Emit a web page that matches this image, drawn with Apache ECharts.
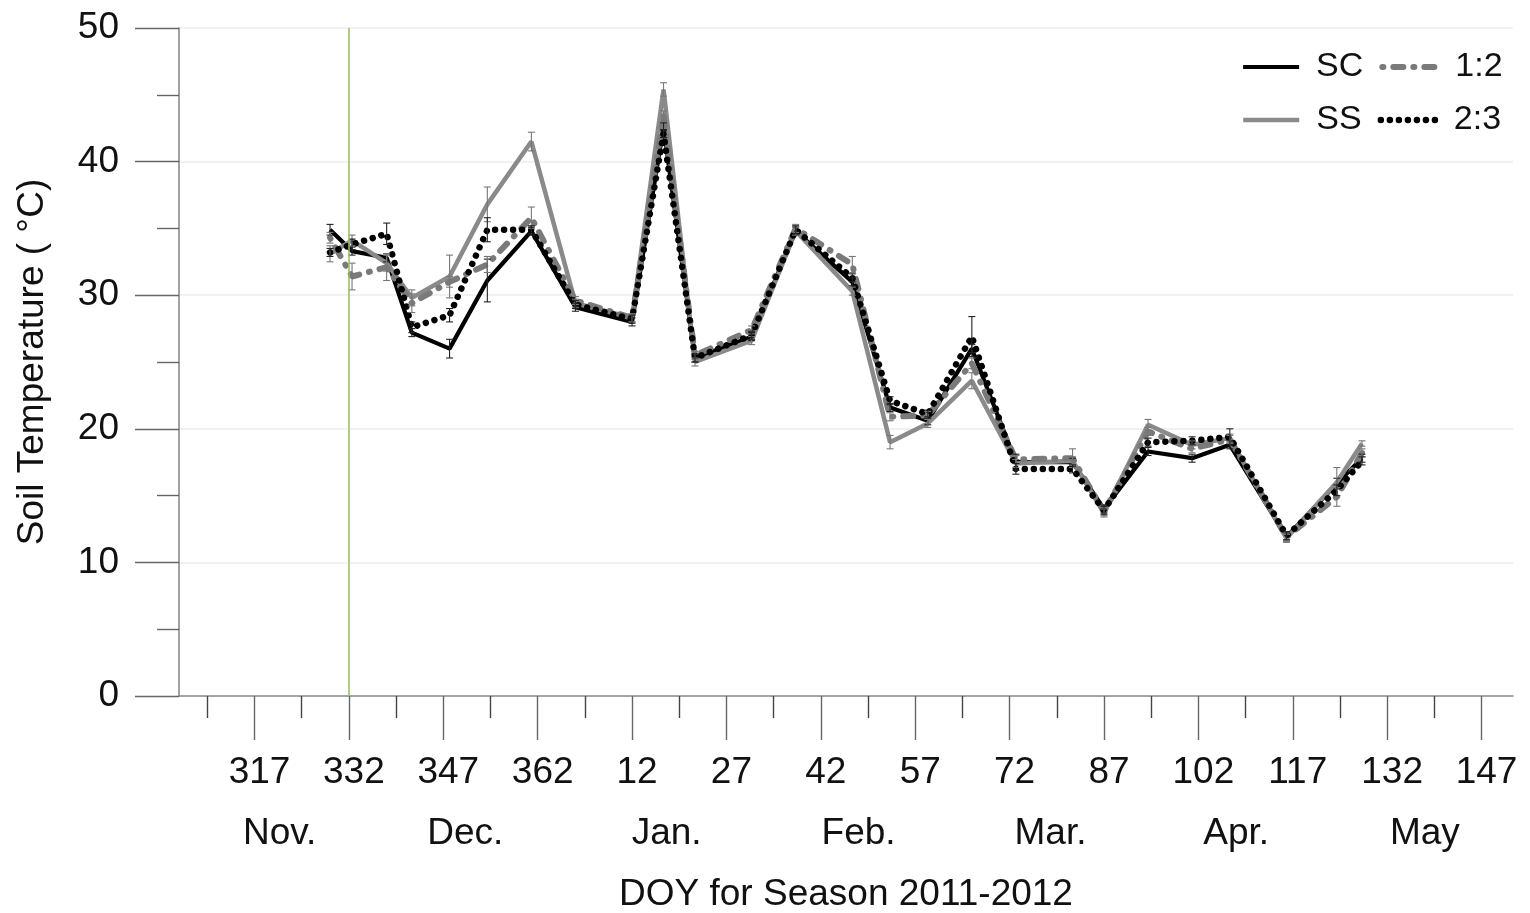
<!DOCTYPE html>
<html>
<head>
<meta charset="utf-8">
<title>Soil Temperature, Season 2011-2012</title>
<script src="https://cdn.jsdelivr.net/npm/echarts@6/dist/echarts.min.js"></script>
<style>
  html, body { margin: 0; padding: 0; background: #ffffff; }
  #chart { width: 1530px; height: 913px; }
</style>
</head>
<body>
<div id="chart"></div>
<script>
// Sampling days, counted as day of year continuing past 365 into 2012
const days = [329, 332.5, 338, 342, 348, 354, 361, 368, 377, 382, 387, 396, 403,
              412, 418, 424, 431, 438, 447, 452, 459, 466, 472, 481, 489, 493];

// Soil temperature (°C) per treatment
const sc  = [34.9, 33.3, 32.8, 27.2, 26.0, 31.1, 34.8, 29.1, 28.0, 42.6, 25.3, 26.9, 34.8,
             31.0, 21.6, 20.6, 26.0, 17.5, 17.5, 14.0, 18.3, 17.8, 18.8, 11.9, 15.9, 17.8];
const ss  = [33.1, 34.1, 32.4, 29.8, 31.4, 36.8, 41.5, 29.4, 28.3, 45.4, 25.0, 26.6, 34.8,
             30.3, 19.0, 20.4, 23.6, 17.4, 17.6, 13.7, 20.3, 18.8, 19.3, 11.8, 16.0, 18.9];
const r12 = [34.3, 31.4, 32.1, 29.4, 31.0, 32.3, 35.8, 29.6, 28.3, 43.4, 25.5, 27.4, 35.0,
             32.3, 20.9, 21.0, 24.9, 17.7, 17.8, 13.8, 19.8, 18.5, 19.2, 11.9, 14.9, 18.2];
const r23 = [33.2, 33.8, 34.6, 27.6, 28.5, 34.9, 34.9, 29.3, 28.2, 42.1, 25.3, 27.0, 34.9,
             31.3, 22.1, 21.1, 26.9, 17.0, 17.0, 13.9, 19.0, 19.1, 19.4, 12.0, 15.4, 17.6];

// Standard errors (±)
const errSC  = [0.4, 0.3, 0.3, 0.3, 0.7, 1.6, 0.3, 0.3, 0.3, 0.3, 0.3, 0.3, 0.3,
                0.3, 0.3, 0.3, 0.3, 0.6, 0.3, 0.3, 0.3, 0.3, 0.3, 0.3, 0.4, 0.3];
const errSS  = [0.6, 0.4, 0.6, 0.6, 1.6, 1.3, 0.7, 0.3, 0.3, 0.5, 0.3, 0.3, 0.3,
                0.3, 0.5, 0.3, 0.6, 0.3, 0.3, 0.3, 0.4, 0.3, 0.3, 0.3, 1.1, 0.2];
const err12  = [0.4, 1.0, 1.0, 0.7, 0.4, 0.6, 0.8, 0.3, 0.3, 0.4, 0.3, 0.3, 0.3,
                0.6, 0.3, 0.3, 0.4, 0.3, 0.7, 0.3, 0.3, 0.3, 0.3, 0.3, 0.7, 0.3];
const err23  = [0.3, 0.4, 0.8, 0.4, 0.5, 0.9, 0.3, 0.3, 0.3, 0.3, 0.3, 0.3, 0.3,
                0.3, 0.3, 0.3, 1.5, 0.4, 0.3, 0.3, 0.3, 0.3, 0.6, 0.3, 0.4, 0.3];

// Axis ticks: labelled DOY ticks every 15 days, short ticks halfway between
const labelTicks = [317, 332, 347, 362, 377, 392, 407, 422, 437, 452, 467, 482, 497, 512];
const halfTicks  = [309.5, 324.5, 339.5, 354.5, 369.5, 384.5, 399.5, 414.5, 429.5,
                    444.5, 459.5, 474.5, 489.5, 504.5];
const monthNames = ['Nov.', 'Dec.', 'Jan.', 'Feb.', 'Mar.', 'Apr.', 'May'];
const monthMid   = [321, 350.5, 382.5, 413, 443.5, 473, 503];
const plantingDay = 332;

const FONT = 'Liberation Sans, Arial, sans-serif';
const FS = 37;
const AXIS_GRAY = '#8a8a8a';
const X_MIN = 305, X_MAX = 517;

// Line styles per treatment
const STYLE = {
  'SC':  { color: '#000000', width: 4.2, type: 'solid' },
  'SS':  { color: '#8a8a8a', width: 4.5, type: 'solid' },
  '1:2': { color: '#7a7a7a', width: 6,   type: [1, 10, 10, 10], cap: 'round' },
  '2:3': { color: '#000000', width: 6.5, type: [0.01, 9], cap: 'round' }
};

function pairs(vals) { return days.map((d, i) => [d, vals[i]]); }

function lineSeries(name, vals, extra) {
  return Object.assign({
    name, type: 'line', data: pairs(vals), symbol: 'none', z: 3,
    lineStyle: Object.assign({}, STYLE[name]),
    itemStyle: { color: STYLE[name].color }
  }, extra || {});
}

function errorBars(name, vals, errs, color) {
  return {
    type: 'custom',
    name: name + ' SE',
    xAxisIndex: 0,
    yAxisIndex: 0,
    silent: true,
    z: 4,
    data: days.map((d, i) => [d, vals[i] - errs[i], vals[i] + errs[i]]),
    encode: { x: 0, y: [1, 2] },
    renderItem(params, api) {
      const lo = api.coord([api.value(0), api.value(1)]);
      const hi = api.coord([api.value(0), api.value(2)]);
      const w = 3.5;
      const style = { stroke: color, lineWidth: 1.1, fill: null };
      return {
        type: 'group',
        children: [
          { type: 'line', shape: { x1: lo[0], y1: lo[1], x2: hi[0], y2: hi[1] }, style },
          { type: 'line', shape: { x1: lo[0] - w, y1: lo[1], x2: lo[0] + w, y2: lo[1] }, style },
          { type: 'line', shape: { x1: hi[0] - w, y1: hi[1], x2: hi[0] + w, y2: hi[1] }, style }
        ]
      };
    }
  };
}

const chart = echarts.init(document.getElementById('chart'), null, { renderer: 'canvas' });

// Legend: two rows of two entries, line samples only (no marker)
function legendRow(names, top) {
  return {
    data: names.map(n => ({ name: n, lineStyle: Object.assign({}, STYLE[n]) })),
    top, left: 1236,
    itemWidth: 56, itemHeight: 24, itemGap: 16,
    itemStyle: { opacity: 0 },
    textStyle: { fontFamily: FONT, fontSize: 34, color: '#111', padding: [0, 0, 0, 12] }
  };
}

const option = {
  backgroundColor: '#ffffff',
  animation: false,
  textStyle: { fontFamily: FONT },
  grid: { left: 179, right: 17, top: 28, bottom: 217, containLabel: false, outerBoundsMode: 'none' },
  legend: [legendRow(['SC', '1:2'], 45), legendRow(['SS', '2:3'], 98)],
  xAxis: [
    {
      type: 'value', min: X_MIN, max: X_MAX, position: 'bottom', offset: 0,
      name: 'DOY for Season 2011-2012',
      nameLocation: 'middle', nameGap: 180,
      nameTextStyle: { fontFamily: FONT, fontSize: FS, color: '#111' },
      axisLine: { show: true, onZero: false, lineStyle: { color: AXIS_GRAY, width: 1.6 } },
      axisTick: { show: true, customValues: labelTicks, length: 44, inside: false,
                  lineStyle: { color: '#666', width: 1.4 } },
      axisLabel: {
        customValues: labelTicks, margin: 58, fontSize: FS, color: '#111', fontFamily: FONT,
        padding: [0, 0, 0, 10],
        formatter: v => String(v > 365 ? v - 365 : v)
      },
      splitLine: { show: false }
    },
    {
      type: 'value', min: X_MIN, max: X_MAX, position: 'bottom', offset: 0,
      axisLine: { show: false },
      axisTick: { show: true, customValues: halfTicks, length: 22, inside: false,
                  lineStyle: { color: '#444', width: 1.4 } },
      axisLabel: { show: false },
      splitLine: { show: false }
    },
    {
      type: 'value', min: X_MIN, max: X_MAX, position: 'bottom', offset: 0,
      axisLine: { show: false },
      axisTick: { show: false },
      axisLabel: {
        customValues: monthMid, margin: 119, fontSize: FS, color: '#111', fontFamily: FONT,
        formatter: v => monthNames[monthMid.indexOf(v)] || ''
      },
      splitLine: { show: false }
    }
  ],
  yAxis: {
    type: 'value', min: 0, max: 50, interval: 10,
    name: 'Soil Temperature ( °C)',
    nameLocation: 'middle', nameRotate: 90, nameGap: 128,
    nameTextStyle: { fontFamily: FONT, fontSize: FS, color: '#111' },
    axisLine: { show: true, lineStyle: { color: AXIS_GRAY, width: 1.6 } },
    axisTick: { show: true, length: 44, lineStyle: { color: '#666', width: 1.4 } },
    minorTick: { show: true, splitNumber: 2, length: 22, lineStyle: { color: '#666', width: 1.4 } },
    axisLabel: { margin: 60, fontSize: FS, color: '#111', fontFamily: FONT },
    splitLine: { show: true, lineStyle: { color: '#ececec', width: 1.6 } },
    minorSplitLine: { show: false }
  },
  series: [
    lineSeries('SC', sc, {
      markLine: {
        silent: true, symbol: 'none', label: { show: false },
        lineStyle: { color: '#9bbb59', width: 1.5, type: 'solid' },
        data: [{ xAxis: plantingDay }]
      }
    }),
    lineSeries('SS', ss),
    lineSeries('1:2', r12),
    lineSeries('2:3', r23),
    errorBars('SC', sc, errSC, '#222222'),
    errorBars('SS', ss, errSS, '#777777'),
    errorBars('1:2', r12, err12, '#777777'),
    errorBars('2:3', r23, err23, '#222222')
  ]
};

chart.setOption(option);
</script>
</body>
</html>
